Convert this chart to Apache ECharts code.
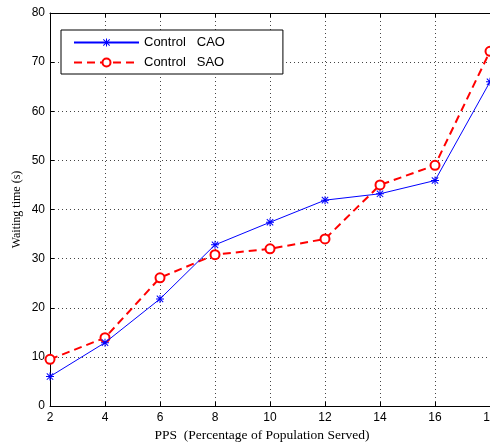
<!DOCTYPE html>
<html>
<head>
<meta charset="utf-8">
<script src="https://cdn.jsdelivr.net/npm/echarts@6/dist/echarts.min.js"></script>
<style>html,body{margin:0;padding:0;background:#fff;}#c{width:490px;height:443px;}</style>
</head>
<body>
<div id="c"></div>
<script>
var xValues = [2, 4, 6, 8, 10, 12, 14, 16, 18];
var cao = [6.0, 12.9, 21.8, 32.8, 37.4, 41.9, 43.2, 45.9, 66.0];
var sao = [9.5, 13.9, 26.1, 30.8, 32.0, 34.0, 45.0, 49.0, 72.2];
var seriesNames = ['Control   CAO', 'Control   SAO'];
var xTitle = 'PPS  (Percentage of Population Served)';
var yTitle = 'Waiting time (s)';

function pairs(xs, ys) { return xs.map(function (x, i) { return [x, ys[i]]; }); }

var star = 'path://M-8,-1 L8,-1 L8,1 L-8,1 Z M-1,-8 L1,-8 L1,8 L-1,8 Z M-5.7,-7.1 L7.1,5.7 L5.7,7.1 L-7.1,-5.7 Z M5.7,-7.1 L7.1,-5.7 L-5.7,7.1 L-7.1,5.7 Z';

var chart = echarts.init(document.getElementById('c'), null, {renderer: 'canvas'});
var tickFont = {color: '#000', fontFamily: 'Liberation Sans, Arial, sans-serif', fontSize: 12};
chart.setOption({
  animation: false,
  backgroundColor: '#fff',
  grid: {left: 50, right: 0, top: 13, bottom: 37, containLabel: false, outerBoundsMode: 'none'},
  legend: {
    orient: 'vertical', left: 61, top: 30,
    data: seriesNames,
    itemWidth: 65, itemHeight: 10, itemGap: 7,
    padding: [6, 58, 5, 12],
    borderColor: '#000', borderWidth: 1, backgroundColor: '#fff',
    textStyle: {color: '#000', fontFamily: 'Liberation Sans, Arial, sans-serif', fontSize: 13}
  },
  xAxis: [{
    type: 'value', min: 2, max: 18, interval: 2,
    name: xTitle, nameLocation: 'middle', nameGap: 22,
    nameTextStyle: {color: '#000', fontFamily: 'Liberation Serif, Times New Roman, serif', fontSize: 13.5, padding: [0, 16, 0, 0]},
    axisLine: {show: true, lineStyle: {color: '#000', width: 1}},
    axisTick: {show: true, inside: true, length: 4, lineStyle: {color: '#000'}},
    axisLabel: Object.assign({margin: 6}, tickFont),
    splitLine: {show: true, lineStyle: {color: '#444', type: [1, 3], width: 1}}
  }, {
    type: 'value', min: 2, max: 18, interval: 2, position: 'top',
    axisLine: {show: true, onZero: false, lineStyle: {color: '#000', width: 1}},
    axisTick: {show: true, inside: true, length: 4, lineStyle: {color: '#000'}},
    axisLabel: {show: false}, splitLine: {show: false}
  }],
  yAxis: {
    type: 'value', min: 0, max: 80, interval: 10,
    name: yTitle, nameLocation: 'middle', nameGap: 27, nameMoveOverlap: false,
    nameTextStyle: {color: '#000', fontFamily: 'Liberation Serif, Times New Roman, serif', fontSize: 12},
    axisLine: {show: true, lineStyle: {color: '#000', width: 1}},
    axisTick: {show: true, inside: true, length: 4, lineStyle: {color: '#000'}},
    axisLabel: Object.assign({margin: 5}, tickFont),
    splitLine: {show: true, lineStyle: {color: '#444', type: [1, 3], width: 1}}
  },
  series: [{
    name: seriesNames[0], type: 'line', data: pairs(xValues, cao),
    symbol: star, symbolSize: 8,
    lineStyle: {color: '#0000ff', width: 1},
    itemStyle: {color: '#0000ff', borderWidth: 0},
    z: 3
  }, {
    name: seriesNames[1], type: 'line', data: pairs(xValues, sao),
    symbol: 'emptyCircle', symbolSize: 9,
    lineStyle: {color: '#ff0000', width: 2, type: [8, 5]},
    itemStyle: {color: '#ff0000', borderColor: '#ff0000', borderWidth: 1.5},
    z: 2
  }]
});
</script>
</body>
</html>
